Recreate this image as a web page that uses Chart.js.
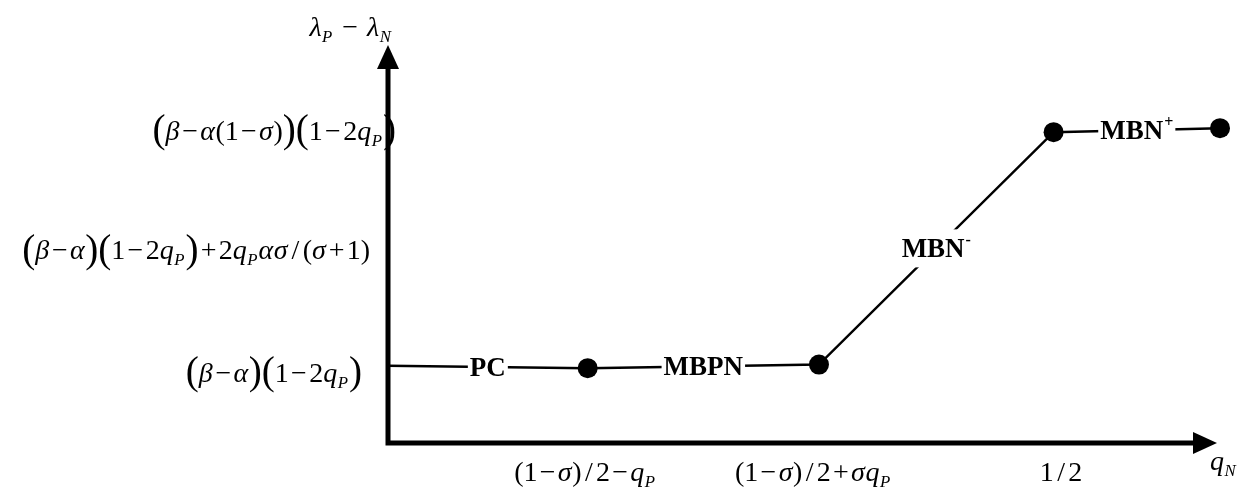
<!DOCTYPE html>
<html>
<head>
<meta charset="utf-8">
<script src="https://cdn.jsdelivr.net/npm/chart.js@4.4.1/dist/chart.umd.min.js"></script>
<style>
  html, body { margin: 0; padding: 0; background: #fff; }
  #wrap { width: 1247px; height: 492px; position: relative; }
</style>
</head>
<body>
<div id="wrap"><canvas id="regimeChart"></canvas></div>
<script>
// schematic values, both axes run 0..1
const pointX = [0, 0.24, 0.518, 0.80, 1.0];
const pointY = [0.194, 0.188, 0.197, 0.781, 0.791];
const markerShown = [false, true, true, true, true];
// one name per segment, ^ = superscript
const regimeNames = ['PC', 'MBPN', 'MBN^-', 'MBN^+'];

// math labels: {} = tall parens, _ = subscript
const xTickValues = [0.237, 0.511, 0.809];
const xTickLabels = ['(1−σ)/2−q_P', '(1−σ)/2+σq_P', '1/2'];
const yTickValues = [0.785, 0.485, 0.177];
const yTickLabels = ['{β−α(1−σ)}{1−2q_P}', '{β−α}{1−2q_P}+2q_Pασ/(σ+1)', '{β−α}{1−2q_P}'];
const xTitle = 'q_N';
const yTitle = 'λ_P−λ_N';

const serif = "'Liberation Serif', 'Times New Roman', serif";
const mathSize = 28;
// right edge of each y tick label, relative to the y axis
const yTickRight = [8, -18, -26];

function parseMath(str) {
    const out = [];
    for (let i = 0; i < str.length; i++) {
        const c = str[i];
        if (c === '{') out.push({ t: '(', k: 'big' });
        else if (c === '}') out.push({ t: ')', k: 'big' });
        else if (c === '_') { out.push({ t: str[i + 1], k: 'sub' }); i++; }
        else if (c === '−' || c === '+') out.push({ t: c, k: 'op' });
        else if (c === '/') out.push({ t: '/', k: 'slash' });
        else if (/[0-9()]/.test(c)) out.push({ t: c, k: 'rom' });
        else out.push({ t: c, k: 'it' });
    }
    return out;
}

function pieceStyle(p, size) {
    // font, left pad, right pad, y shift
    if (p.k === 'big') return { font: (size * 1.4) + 'px ' + serif, l: 0, r: 0, dy: size * 0.1 };
    if (p.k === 'sub') return { font: 'italic ' + (size * 0.6) + 'px ' + serif, l: 0, r: 1, dy: size * 0.22 };
    if (p.k === 'op') return { font: size + 'px ' + serif, l: size * 0.08, r: size * 0.08, dy: 0 };
    if (p.k === 'slash') return { font: size + 'px ' + serif, l: size * 0.12, r: size * 0.12, dy: 0 };
    if (p.k === 'rom') return { font: size + 'px ' + serif, l: 0, r: 0, dy: 0 };
    return { font: 'italic ' + size + 'px ' + serif, l: 0, r: size * 0.02, dy: 0 };
}

function drawMath(ctx, str, x, y, size, align, opPad) {
    const pieces = parseMath(str);
    let total = 0;
    pieces.forEach(function(p) {
        p.s = pieceStyle(p, size);
        if (p.k === 'op' && opPad) { p.s.l = opPad; p.s.r = opPad; }
        ctx.font = p.s.font;
        p.w = ctx.measureText(p.t).width + p.s.l + p.s.r;
        total += p.w;
    });
    let cx = x;
    if (align === 'right') cx = x - total;
    if (align === 'center') cx = x - total / 2;
    ctx.textAlign = 'left';
    ctx.textBaseline = 'alphabetic';
    pieces.forEach(function(p) {
        ctx.font = p.s.font;
        ctx.fillText(p.t, cx + p.s.l, y + p.s.dy);
        cx += p.w;
    });
}

function drawRegime(ctx, name, x, y) {
    const parts = name.split('^');
    const size = 27;
    ctx.font = 'bold ' + size + 'px ' + serif;
    const w1 = ctx.measureText(parts[0]).width;
    let w2 = 0;
    if (parts[1]) {
        ctx.font = 'bold 16px ' + serif;
        w2 = ctx.measureText(parts[1]).width + 1;
    }
    const w = w1 + w2;
    //white box hides the line under the label
    ctx.fillStyle = '#fff';
    ctx.fillRect(x - w / 2 - 2, y - 19, w + 4, 38);
    ctx.fillStyle = '#000';
    ctx.textAlign = 'left';
    ctx.textBaseline = 'alphabetic';
    ctx.font = 'bold ' + size + 'px ' + serif;
    ctx.fillText(parts[0], x - w / 2, y + size * 0.33);
    if (parts[1]) {
        ctx.font = 'bold 16px ' + serif;
        ctx.fillText(parts[1], x - w / 2 + w1 + 1, y - 3);
    }
}

const schematicPlugin = {
    id: 'schematic',
    afterDatasetsDraw(chart) {
        const ctx = chart.ctx;
        const area = chart.chartArea;
        const xs = chart.scales.x;
        const ys = chart.scales.y;
        ctx.save();

        // regime names in the middle of each segment
        for (let i = 0; i < regimeNames.length; i++) {
            const mx = xs.getPixelForValue((pointX[i] + pointX[i + 1]) / 2);
            const my = ys.getPixelForValue((pointY[i] + pointY[i + 1]) / 2);
            drawRegime(ctx, regimeNames[i], mx, my);
        }

        // axes with arrows
        const L = area.left, B = area.bottom;
        ctx.strokeStyle = '#000';
        ctx.fillStyle = '#000';
        ctx.lineWidth = 5;
        ctx.beginPath();
        ctx.moveTo(L, B + 2.5);
        ctx.lineTo(L, area.top + 20);
        ctx.moveTo(L - 2.5, B);
        const tipX = area.right - 3;
        ctx.lineTo(tipX - 20, B);
        ctx.stroke();
        ctx.beginPath();
        ctx.moveTo(L, area.top);
        ctx.lineTo(L - 11, area.top + 24);
        ctx.lineTo(L + 11, area.top + 24);
        ctx.closePath();
        ctx.fill();
        ctx.beginPath();
        ctx.moveTo(tipX, B);
        ctx.lineTo(tipX - 24, B - 11);
        ctx.lineTo(tipX - 24, B + 11);
        ctx.closePath();
        ctx.fill();

        // tick labels
        xTickValues.forEach(function(v, i) {
            drawMath(ctx, xTickLabels[i], xs.getPixelForValue(v), B + 38, mathSize, 'center');
        });
        yTickValues.forEach(function(v, i) {
            drawMath(ctx, yTickLabels[i], L + yTickRight[i], ys.getPixelForValue(v) + 9, mathSize, 'right');
        });

        // axis titles
        drawMath(ctx, yTitle, L + 4, 36, mathSize, 'right', 9);
        drawMath(ctx, xTitle, tipX - 7, B + 27, mathSize, 'left');

        ctx.restore();
    }
};

document.addEventListener('DOMContentLoaded', function() {
    const canvas = document.getElementById('regimeChart');
    new Chart(canvas, {
        type: 'scatter',
        data: {
            datasets: [{
                data: pointX.map(function(x, i) { return { x: x, y: pointY[i] }; }),
                showLine: true,
                borderColor: '#000',
                borderWidth: 2.5,
                pointRadius: markerShown.map(function(m) { return m ? 10 : 0; }),
                pointHoverRadius: markerShown.map(function(m) { return m ? 10 : 0; }),
                pointBackgroundColor: '#000',
                pointBorderWidth: 0,
                clip: false
            }]
        },
        options: {
            responsive: true,
            maintainAspectRatio: false,
            animation: false,
            events: [],
            layout: { padding: { left: 388, right: 27, top: 45, bottom: 49 } },
            plugins: {
                legend: { display: false },
                tooltip: { enabled: false }
            },
            scales: {
                x: { type: 'linear', min: 0, max: 1, display: false },
                y: { type: 'linear', min: 0, max: 1, display: false }
            }
        },
        plugins: [schematicPlugin]
    });
});
</script>
</body>
</html>
